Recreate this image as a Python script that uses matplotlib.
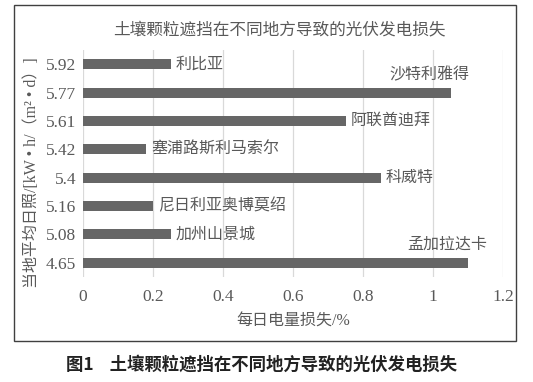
import numpy as np
import matplotlib
matplotlib.use('Agg')
import matplotlib.pyplot as plt
from matplotlib.patches import Rectangle

plt.rcParams['font.family'] = ['Liberation Serif', 'Noto Sans CJK SC', 'DejaVu Sans']
plt.rcParams['axes.unicode_minus'] = False

# 数据（自下而上）
irradiance = ['4.65', '5.08', '5.16', '5.4', '5.42', '5.61', '5.77', '5.92']
places = ['孟加拉达卡', '加州山景城', '尼日利亚奥博莫绍', '科威特',
          '塞浦路斯利马索尔', '阿联酋迪拜', '沙特利雅得', '利比亚']
loss = [1.10, 0.25, 0.20, 0.85, 0.18, 0.75, 1.05, 0.25]
label_above = [True, False, False, False, False, False, True, False]

GREY = '#595959'
fig = plt.figure(figsize=(5.33, 3.82), dpi=100)
ax = fig.add_axes([0.156, 0.275, 0.788, 0.594])

y = np.arange(len(loss))
ax.barh(y, loss, height=0.35, color='#666666', zorder=3)
for yi, v, name, above in zip(y, loss, places, label_above):
    if above:
        ax.text(v - 0.06, yi + 0.62, name, ha='center', va='center',
                fontsize=11.5, color=GREY)
    else:
        ax.text(v + 0.015, yi, name, ha='left', va='center',
                fontsize=11.5, color=GREY)

ax.set_xlim(0, 1.2)
ax.set_ylim(-0.5, len(loss) - 0.5)
ax.set_xticks(np.arange(0, 1.21, 0.2))
ax.set_xticklabels(['0', '0.2', '0.4', '0.6', '0.8', '1', '1.2'])
ax.set_yticks(y)
ax.set_yticklabels(irradiance)
ax.tick_params(length=0, labelsize=12.5, colors=GREY, pad=5)
ax.tick_params(axis='x', pad=9)
ax.grid(axis='x', color='#d9d9d9', lw=0.9, zorder=0)
for s in ax.spines.values():
    s.set_visible(False)

ax.set_xlabel('每日电量损失/%', fontsize=11.5, color=GREY, labelpad=6)
fig.text(0.06, 0.547, '当地平均日照/[kW • h/（m² • d）]', rotation=90,
         ha='center', va='center', fontsize=11.5, color=GREY)
fig.text(0.525, 0.92, '土壤颗粒遮挡在不同地方导致的光伏发电损失',
         ha='center', va='center', fontsize=12, color=GREY)

# 外框
fig.patches.append(Rectangle((14 / 533, 1 - 341 / 382), 502 / 533, 336 / 382,
                             transform=fig.transFigure, fill=False,
                             ec='#404040', lw=1.0))
fig.text(0.49, 0.045, '图1    土壤颗粒遮挡在不同地方导致的光伏发电损失',
         ha='center', va='center', fontsize=12.5, fontweight='bold',
         color='#222222', family=['Noto Sans CJK SC', 'DejaVu Sans'])

fig.savefig('out.png', dpi=100)
